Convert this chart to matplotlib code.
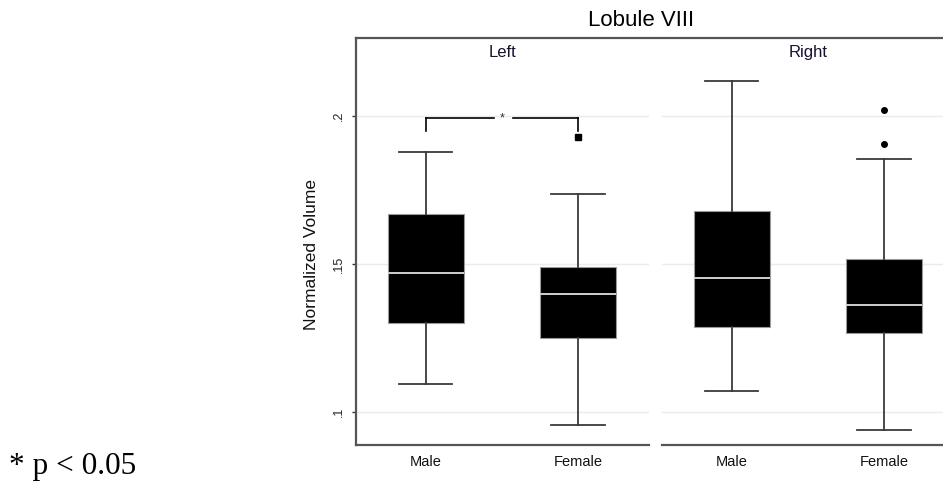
import matplotlib
matplotlib.use("Agg")
import matplotlib.pyplot as plt
from matplotlib.lines import Line2D

# ---------------- data ----------------
title = "Lobule VIII"
groups = ["Male", "Female"]
sides = ["Left", "Right"]
y_label = "Normalized Volume"
y_ticks = [0.1, 0.15, 0.2]
y_tick_labels = [".1", ".15", ".2"]

left_whislo = [0.1097, 0.0957]
left_q1 = [0.1302, 0.1250]
left_med = [0.1471, 0.1400]
left_q3 = [0.1671, 0.1490]
left_whishi = [0.1880, 0.1736]
left_fliers = [[], [0.1929]]

right_whislo = [0.1071, 0.0940]
right_q1 = [0.1288, 0.1268]
right_med = [0.1455, 0.1362]
right_q3 = [0.1681, 0.1518]
right_whishi = [0.2119, 0.1855]
right_fliers = [[], [0.2022, 0.1907]]

sig_mark = "*"
sig_top = 0.1994
sig_leg = 0.1951
footnote = "* p < 0.05"

# ---------------- figure ----------------
W, H = 943, 482
fig = plt.figure(figsize=(W / 100, H / 100), dpi=100)
plt.rcParams['font.family'] = ['Liberation Sans', 'DejaVu Sans']

ax_bottom_px, ax_top_px = 445, 38.3
panel_w = 293
ax1 = fig.add_axes([356 / W, (H - ax_bottom_px) / H, panel_w / W, (ax_bottom_px - ax_top_px) / H])
ax2 = fig.add_axes([662 / W, (H - ax_bottom_px) / H, panel_w / W, (ax_bottom_px - ax_top_px) / H])

ylim = (0.08895, 0.22635)
xlim = (-0.458, 1.466)
spine_col = "#555555"


def make_stats(whislo, q1, med, q3, whishi, fliers):
    return [dict(whislo=a, q1=b, med=c, q3=d, whishi=e, fliers=f, label=g)
            for a, b, c, d, e, f, g in zip(whislo, q1, med, q3, whishi, fliers, groups)]


panels = [
    (ax1, make_stats(left_whislo, left_q1, left_med, left_q3, left_whishi, left_fliers), 's', sides[0]),
    (ax2, make_stats(right_whislo, right_q1, right_med, right_q3, right_whishi, right_fliers), 'o', sides[1]),
]

for ax, stats, fmark, side in panels:
    ax.set_xlim(*xlim)
    ax.set_ylim(*ylim)
    for yt in y_ticks:
        ax.axhline(yt, color="#e4eeee", lw=1.0, zorder=0)
    ax.bxp(stats, positions=[0, 1], widths=0.5, patch_artist=True,
           showfliers=True,
           boxprops=dict(facecolor="black", edgecolor="#9a9a9a", linewidth=0.8),
           medianprops=dict(color="#cfcfcf", linewidth=1.4),
           whiskerprops=dict(color="#3a3a3a", linewidth=1.3),
           capprops=dict(color="#3a3a3a", linewidth=1.3),
           capwidths=0.35,
           flierprops=dict(marker=fmark, markerfacecolor="black", markeredgecolor="black",
                           markersize=4, linestyle="none"))
    for s in ["top", "right", "left"]:
        ax.spines[s].set_visible(False)
    ax.spines["bottom"].set_color(spine_col)
    ax.spines["bottom"].set_linewidth(1.6)
    ax.tick_params(axis="x", length=0, pad=7, labelsize=10.5, colors="#111111")
    ax.set_xticks([0, 1])
    ax.set_xticklabels(groups)
    ax.text(0.5, 0.964, side, transform=ax.transAxes, ha="center", va="center",
            fontsize=12, color="#1a1030")

ax1.spines["left"].set_visible(True)
ax1.spines["left"].set_color(spine_col)
ax1.spines["left"].set_linewidth(1.6)
ax1.set_yticks(y_ticks)
ax1.set_yticklabels(y_tick_labels, rotation=90, va="center")
ax1.tick_params(axis="y", length=3.2, width=1.0, color="#333333", pad=5, labelsize=9, labelcolor="#222222")
ax2.set_yticks([])

# top frame line spanning both panels
fig.add_artist(Line2D([356 / W, 1.0], [(H - ax_top_px) / H] * 2, transform=fig.transFigure,
                      color=spine_col, lw=1.6))

# significance bracket
bk = dict(color="black", lw=1.2)
ax1.plot([0, 0], [sig_leg, sig_top], **bk)
ax1.plot([0, 0.448], [sig_top, sig_top], **bk)
ax1.plot([0.573, 1], [sig_top, sig_top], **bk)
ax1.plot([1, 1], [sig_top, sig_leg], **bk)
ax1.text(0.505, sig_top, sig_mark, ha="center", va="center", fontsize=9, color="#333344")

# titles and labels
fig.text(641.5 / W, 1 - 20.7 / H, title, ha="center", va="center", fontsize=16, color="black")
fig.text(311.7 / W, 1 - 255 / H, y_label, rotation=90, ha="center", va="center",
         fontsize=12.5, color="#111111")
fig.text(9 / W, 1 - 466.7 / H, footnote, ha="left", va="center", fontsize=22.5,
         family=["Liberation Serif", "DejaVu Serif"], color="black")

fig.savefig("out.png", dpi=100)
